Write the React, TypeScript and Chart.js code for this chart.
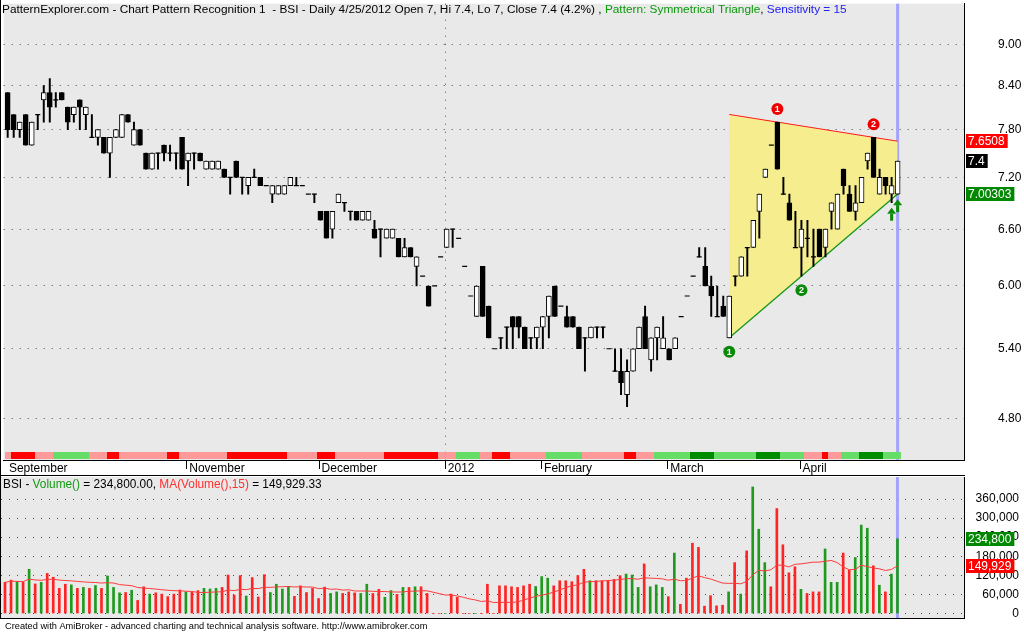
import React, { useEffect, useRef } from "react";
import { Chart, registerables } from "chart.js";

Chart.register(...registerables);

// ---------------- data ----------------
const opens = [
  8.3, 8.0, 7.8, 8.0, 7.6, 8.0, 8.2, 8.3, 8.2, 8.3,
  8.1, 8.0, 8.2, 8.0, 7.7, 7.7, 7.7, 7.5, 7.7, 7.7,
  8.0, 7.6, 7.8, 7.5, 7.3, 7.5, 7.6, 7.5, 7.5, 7.7,
  7.4, 7.5, 7.5, 7.3, 7.3, 7.3, 7.3, 7.2, 7.4, 7.2,
  7.1, 7.2, 7.2, 7.1, 7.0, 7.0, 7.0, 7.1, 7.1, 7.1,
  7.0, 7.0, 6.8, 6.8, 6.6, 6.9, 6.9, 6.8, 6.8, 6.7,
  6.7, 6.6, 6.6, 6.5, 6.5, 6.5, 6.3, 6.4, 6.2, 6.1,
  6.0, 6.0, 6.3, 6.4, 6.6, 6.5, 6.2, 5.9, 5.7, 6.2,
  5.8, 5.4, 5.5, 5.6, 5.7, 5.7, 5.6, 5.5, 5.5, 5.6,
  5.7, 6.0, 5.8, 5.7, 5.7, 5.6, 5.5, 5.5, 5.6, 5.6,
  5.4, 5.2, 5.2, 5.0, 5.2, 5.4, 5.7, 5.3, 5.5, 5.4,
  5.4, 5.4, 5.7, 5.9, 6.1, 6.3, 6.2, 6.0, 5.7, 5.8,
  5.5, 6.1, 6.1, 6.4, 6.4, 6.8, 7.2, 7.6, 7.9, 7.0,
  6.9, 6.4, 6.4, 6.5, 6.3, 6.6, 6.4, 6.8, 6.6, 7.3,
  7.0, 6.8, 6.9, 7.4, 7.7, 7.0, 7.2, 7.0, 7.0,
];
const highs = [
  8.3, 8.0, 7.9, 8.0, 7.9, 8.0, 8.4, 8.5, 8.3, 8.3,
  8.1, 8.1, 8.2, 8.1, 8.0, 7.8, 7.7, 7.7, 7.8, 8.0,
  8.0, 7.9, 7.8, 7.5, 7.5, 7.5, 7.6, 7.6, 7.5, 7.7,
  7.5, 7.5, 7.5, 7.4, 7.4, 7.4, 7.3, 7.2, 7.4, 7.2,
  7.2, 7.3, 7.2, 7.1, 7.1, 7.1, 7.1, 7.2, 7.2, 7.1,
  7.0, 7.0, 6.8, 6.8, 6.8, 7.0, 6.9, 6.8, 6.8, 6.8,
  6.8, 6.7, 6.6, 6.6, 6.6, 6.5, 6.5, 6.4, 6.3, 6.1,
  6.0, 6.0, 6.3, 6.6, 6.6, 6.5, 6.2, 5.9, 6.0, 6.2,
  5.8, 5.4, 5.5, 5.6, 5.7, 5.7, 5.6, 5.5, 5.6, 5.7,
  5.9, 6.0, 5.8, 5.8, 5.7, 5.6, 5.5, 5.6, 5.6, 5.6,
  5.4, 5.4, 5.4, 5.3, 5.4, 5.6, 5.8, 5.5, 5.6, 5.7,
  5.4, 5.5, 5.7, 5.9, 6.1, 6.4, 6.4, 6.1, 6.0, 5.9,
  5.9, 6.1, 6.3, 6.4, 6.7, 7.0, 7.3, 7.6, 7.9, 7.2,
  7.0, 6.8, 6.7, 6.7, 6.6, 6.6, 6.6, 6.9, 7.0, 7.3,
  7.1, 7.1, 7.2, 7.5, 7.7, 7.3, 7.2, 7.2, 7.4,
];
const lows = [
  7.7, 7.7, 7.7, 7.6, 7.6, 7.8, 7.9, 7.9, 8.1, 8.2,
  7.8, 7.9, 7.8, 7.8, 7.7, 7.6, 7.5, 7.2, 7.7, 7.7,
  7.9, 7.6, 7.6, 7.3, 7.3, 7.3, 7.4, 7.4, 7.3, 7.3,
  7.1, 7.3, 7.4, 7.3, 7.3, 7.3, 7.2, 7.0, 7.2, 7.0,
  7.0, 7.2, 7.1, 7.1, 6.9, 7.0, 7.0, 7.1, 7.1, 7.1,
  7.0, 6.9, 6.7, 6.5, 6.5, 6.9, 6.8, 6.7, 6.7, 6.7,
  6.7, 6.5, 6.3, 6.5, 6.5, 6.3, 6.3, 6.3, 6.0, 6.1,
  5.8, 6.0, 6.3, 6.4, 6.4, 6.5, 6.2, 5.9, 5.7, 5.7,
  5.5, 5.4, 5.4, 5.4, 5.4, 5.5, 5.4, 5.4, 5.4, 5.4,
  5.5, 5.7, 5.8, 5.6, 5.6, 5.4, 5.2, 5.5, 5.5, 5.5,
  5.4, 5.2, 5.0, 4.9, 5.2, 5.4, 5.4, 5.2, 5.3, 5.4,
  5.3, 5.4, 5.7, 5.9, 6.1, 6.3, 6.0, 5.7, 5.7, 5.7,
  5.5, 6.0, 6.1, 6.1, 6.4, 6.5, 7.2, 7.6, 7.3, 7.0,
  6.7, 6.4, 6.1, 6.3, 6.2, 6.3, 6.3, 6.6, 6.6, 7.0,
  6.8, 6.7, 6.9, 7.3, 7.2, 7.0, 7.0, 6.9, 7.0,
];
const closes = [
  7.8, 7.8, 7.9, 7.6, 7.9, 8.0, 8.3, 8.1, 8.2, 8.2,
  7.9, 8.1, 8.1, 8.1, 7.7, 7.8, 7.5, 7.7, 7.8, 8.0,
  7.9, 7.8, 7.6, 7.3, 7.5, 7.5, 7.5, 7.5, 7.5, 7.3,
  7.5, 7.5, 7.4, 7.4, 7.4, 7.4, 7.2, 7.2, 7.2, 7.2,
  7.2, 7.2, 7.1, 7.1, 7.1, 7.1, 7.1, 7.2, 7.1, 7.1,
  7.0, 7.0, 6.7, 6.5, 6.8, 7.0, 6.9, 6.8, 6.7, 6.8,
  6.8, 6.5, 6.6, 6.6, 6.6, 6.3, 6.4, 6.3, 6.3, 6.1,
  5.8, 6.0, 6.3, 6.6, 6.6, 6.5, 6.2, 5.9, 6.0, 5.7,
  5.5, 5.4, 5.5, 5.6, 5.6, 5.6, 5.4, 5.5, 5.6, 5.7,
  5.9, 5.7, 5.8, 5.6, 5.6, 5.4, 5.5, 5.6, 5.6, 5.6,
  5.4, 5.2, 5.1, 5.2, 5.4, 5.6, 5.4, 5.5, 5.6, 5.5,
  5.3, 5.5, 5.7, 5.9, 6.1, 6.3, 6.0, 5.9, 5.7, 5.7,
  5.9, 6.1, 6.3, 6.4, 6.7, 7.0, 7.3, 7.6, 7.3, 7.0,
  6.7, 6.4, 6.6, 6.5, 6.3, 6.3, 6.6, 6.9, 7.0, 7.1,
  6.8, 6.9, 7.2, 7.5, 7.2, 7.2, 7.1, 7.1, 7.4,
];
const volumes = [
  98000, 105000, 100000, 98000, 139000, 93000, 98000, 126000, 114000, 79000,
  92000, 90000, 79000, 82000, 79000, 88000, 79000, 118000, 82000, 65000,
  66000, 73000, 41000, 84000, 61000, 65000, 61000, 53000, 61000, 74000,
  68000, 68000, 72000, 79000, 77000, 79000, 82000, 121000, 58000, 119000,
  55000, 113000, 52000, 122000, 66000, 92000, 77000, 85000, 54000, 87000,
  66000, 79000, 47000, 83000, 63000, 68000, 63000, 68000, 65000, 63000,
  92000, 63000, 76000, 51000, 72000, 60000, 82000, 82000, 84000, 84000,
  63000, 0, 0, 0, 61000, 51000, 0, 0, 0, 0,
  92000, 0, 87000, 87000, 84000, 82000, 87000, 92000, 85000, 116000,
  111000, 87000, 103000, 103000, 100000, 119000, 139000, 103000, 103000, 103000,
  103000, 107000, 119000, 124000, 121000, 82000, 156000, 84000, 90000, 82000,
  53000, 190000, 29000, 111000, 221000, 208000, 23000, 56000, 24000, 26000,
  68000, 160000, 61000, 197000, 398000, 265000, 160000, 84000, 330000, 216000,
  128000, 147000, 76000, 63000, 68000, 68000, 203000, 98000, 98000, 190000,
  136000, 176000, 278000, 268140, 150000, 89000, 68000, 124000, 234800,
];

const priceTicks = [4.8, 5.4, 6.0, 6.6, 7.2, 7.8, 8.4, 9.0];
const volumeTicks = [0, 60000, 120000, 180000, 240000, 300000, 360000];
const monthStartBars = [0, 30, 52, 73, 89, 110, 132];
const monthLabels = ["September", "November", "December", "2012", "February", "March", "April"];
const yearStartBar = 73;

// trend strip at bottom of price pane (run starts + kind)
const trendStarts = [0, 1, 5, 8, 14, 17, 19, 27, 29, 37, 47, 52, 55, 63, 72, 75, 79, 81, 84, 90, 96, 103, 105, 108, 114, 118, 125, 129, 133, 136, 137, 139, 142, 146];
const trendKinds = ["lr", "r", "lr", "lg", "lr", "r", "lr", "r", "lr", "r", "lr", "r", "lr", "r", "lr", "lg", "lr", "r", "lr", "lg", "lr", "r", "lr", "lg", "g", "lg", "g", "lg", "lr", "r", "lr", "lg", "g", "lg"];

const patternBars = [120, 148];
const resistanceValues = [8.0019, 7.6508];
const supportValues = [5.5, 7.00303];
const peakBars = [128, 144];
const troughBars = [120, 132];
const signalBars = [147, 148];
const MA_PERIOD = 15;

const headerParts = [
  { t: "PatternExplorer.com - Chart Pattern Recognition 1  - BSI - Daily 4/25/2012 Open 7, Hi 7.4, Lo 7, Close 7.4 (4.2%) , ", c: "#000000" },
  { t: "Pattern: Symmetrical Triangle", c: "#0a9a0a" },
  { t: ", ", c: "#000000" },
  { t: "Sensitivity = 15", c: "#2020f0" },
];
const volumeTitleParts = [
  { t: "BSI - ", c: "#000000" },
  { t: "Volume()", c: "#129a12" },
  { t: " = 234,800.00, ", c: "#000000" },
  { t: "MA(Volume(),15)", c: "#ff3030" },
  { t: " = 149,929.33", c: "#000000" },
];
const footerText = "Created with AmiBroker - advanced charting and technical analysis software. http://www.amibroker.com";

// ---------------- styling ----------------
const FONT = "'Liberation Sans', Arial, Helvetica, sans-serif";
const PANE_BG = "#e9e9e9";
const GRID = "#4a4a4a";
const UP_GREEN = "#1f9a1f";
const DOWN_RED = "#ff2424";
const TREND_COLORS: Record<string, string> = { r: "#ff0000", lr: "#ff9a9a", lg: "#66dd66", g: "#008c00" };
const X_MIN = -0.6633;
const X_MAX = 159.037;

function measureParts(ctx: CanvasRenderingContext2D, parts: { t: string }[], size: number) {
  ctx.font = `${size}px ${FONT}`;
  return parts.reduce((s, p) => s + ctx.measureText(p.t).width, 0);
}
function drawParts(ctx: CanvasRenderingContext2D, parts: { t: string; c: string }[], x: number, y: number, target: number) {
  let size = 12;
  const w = measureParts(ctx, parts, size);
  size = Math.max(10.5, Math.min(13, (size * target) / w));
  ctx.font = `${size}px ${FONT}`;
  ctx.textBaseline = "alphabetic";
  ctx.textAlign = "left";
  let cx = x;
  for (const p of parts) {
    ctx.fillStyle = p.c;
    ctx.fillText(p.t, cx, y);
    cx += ctx.measureText(p.t).width;
  }
}
function drawTag(ctx: CanvasRenderingContext2D, x: number, y: number, text: string, bg: string) {
  ctx.font = `12px ${FONT}`;
  const w = ctx.measureText(text).width + 5;
  const yy = Math.round(y);
  ctx.fillStyle = bg;
  ctx.fillRect(x, yy - 7, w, 14);
  ctx.fillStyle = "#ffffff";
  ctx.textBaseline = "middle";
  ctx.textAlign = "left";
  ctx.fillText(text, x + 2, yy + 0.5);
}
function drawBadge(ctx: CanvasRenderingContext2D, x: number, y: number, color: string, label: string) {
  ctx.beginPath();
  ctx.arc(x, y, 6, 0, Math.PI * 2);
  ctx.fillStyle = color;
  ctx.fill();
  ctx.fillStyle = "#ffffff";
  ctx.font = `bold 9px ${FONT}`;
  ctx.textAlign = "center";
  ctx.textBaseline = "middle";
  ctx.fillText(label, x, y + 0.5);
}
function drawUpArrow(ctx: CanvasRenderingContext2D, x: number, top: number, color: string) {
  ctx.fillStyle = color;
  ctx.beginPath();
  ctx.moveTo(x, top);
  ctx.lineTo(x - 4.5, top + 6);
  ctx.lineTo(x + 4.5, top + 6);
  ctx.closePath();
  ctx.fill();
  ctx.fillRect(x - 1.5, top + 6, 3, 7);
}

export default function App() {
  const priceRef = useRef<HTMLCanvasElement>(null);
  const volRef = useRef<HTMLCanvasElement>(null);

  useEffect(() => {
    document.body.style.margin = "0";
    const n = closes.length;
    const lastBar = n - 1;

    const wickData: any[] = [];
    const bodyData: any[] = [];
    const bodyColors: string[] = [];
    const dojiData: any[] = [];
    for (let i = 0; i < n; i++) {
      const o = opens[i], c = closes[i];
      if (highs[i] > lows[i]) wickData.push({ x: i, y: [lows[i], highs[i]] });
      if (o !== c) {
        bodyData.push({ x: i, y: [Math.min(o, c), Math.max(o, c)] });
        bodyColors.push(c > o ? "#ffffff" : "#000000");
      } else {
        dojiData.push({ x: i, y: o });
      }
    }
    const volData = volumes.map((v, i) => ({ x: i, y: v }));
    const volColors = volumes.map((_, i) => (closes[i] > opens[i] ? UP_GREEN : DOWN_RED));
    const maData = volumes.map((_, i) => {
      const s = Math.max(0, i - MA_PERIOD + 1);
      let sum = 0;
      for (let k = s; k <= i; k++) sum += volumes[k];
      return { x: i, y: sum / (i - s + 1) };
    });

    const bgPlugin = {
      id: "paneBg",
      beforeDraw(chart: any) {
        const { ctx, chartArea: a } = chart;
        ctx.save();
        ctx.fillStyle = PANE_BG;
        ctx.fillRect(a.left, a.top, a.right - a.left, a.bottom - a.top);
        ctx.restore();
      },
      beforeDatasetsDraw(chart: any) {
        const { ctx, chartArea: a, scales } = chart;
        const x = scales.x.getPixelForValue(lastBar);
        ctx.save();
        ctx.fillStyle = "rgba(150,150,255,0.85)";
        ctx.fillRect(x - 1.5, a.top, 3, a.bottom - a.top);
        ctx.restore();
      },
    };

    const pricePlugin = {
      id: "priceOverlay",
      beforeDatasetsDraw(chart: any) {
        const { ctx, chartArea: a, scales } = chart;
        const xs = scales.x;
        ctx.save();
        const yx = Math.round(xs.getPixelForValue(yearStartBar - 0.3)) + 0.5;
        ctx.strokeStyle = GRID;
        ctx.lineWidth = 1;
        ctx.setLineDash([1, 7]);
        ctx.beginPath();
        ctx.moveTo(yx, a.top);
        ctx.lineTo(yx, a.bottom);
        ctx.stroke();
        ctx.restore();
      },
      afterDatasetsDraw(chart: any) {
        const { ctx, chartArea: a, scales } = chart;
        const xs = scales.x, ys = scales.y;
        ctx.save();
        for (let k = 0; k < trendStarts.length; k++) {
          const s = trendStarts[k];
          const e = k + 1 < trendStarts.length ? trendStarts[k + 1] - 1 : lastBar;
          const x0 = Math.round(xs.getPixelForValue(s - 0.5));
          const x1 = Math.round(xs.getPixelForValue(e + 0.5));
          ctx.fillStyle = TREND_COLORS[trendKinds[k]];
          ctx.fillRect(x0, a.bottom - 8, x1 - x0, 7);
        }
        peakBars.forEach((b, idx) => {
          drawBadge(ctx, xs.getPixelForValue(b), ys.getPixelForValue(highs[b]) - 13, "#ee0000", String(idx + 1));
        });
        troughBars.forEach((b, idx) => {
          drawBadge(ctx, xs.getPixelForValue(b), ys.getPixelForValue(lows[b]) + 14, "#0a8a0a", String(idx + 1));
        });
        signalBars.forEach((b) => {
          drawUpArrow(ctx, xs.getPixelForValue(b), ys.getPixelForValue(lows[b]) + 5, "#0a8a0a");
        });
        ctx.restore();
      },
      afterDraw(chart: any) {
        const { ctx, chartArea: a, scales } = chart;
        const ys = scales.y, xs = scales.x;
        ctx.save();
        ctx.strokeStyle = "#000";
        ctx.lineWidth = 1;
        monthStartBars.forEach((b, i) => {
          if (i === 0) return;
          const x = Math.round(xs.getPixelForValue(b - 0.3)) + 0.5;
          ctx.beginPath();
          ctx.moveTo(x, a.bottom + 1);
          ctx.lineTo(x, a.bottom + 9);
          ctx.stroke();
        });
        ctx.fillStyle = "#000";
        ctx.fillRect(0, chart.height - 1, a.right + 1, 1);
        drawParts(ctx, headerParts, 2, 13, 846);
        drawTag(ctx, a.right + 2, ys.getPixelForValue(resistanceValues[1]), resistanceValues[1].toFixed(4), "#ff0000");
        drawTag(ctx, a.right + 2, ys.getPixelForValue(closes[lastBar]), String(closes[lastBar]), "#000000");
        drawTag(ctx, a.right + 2, ys.getPixelForValue(supportValues[1]), supportValues[1].toFixed(5), "#008800");
        ctx.fillStyle = "#000";
        ctx.fillRect(0, 0, 1, chart.height);
        ctx.restore();
      },
    };

    const volPlugin = {
      id: "volOverlay",
      afterDraw(chart: any) {
        const { ctx, chartArea: a, scales } = chart;
        const ys = scales.y;
        ctx.save();
        ctx.fillStyle = "#000";
        ctx.fillRect(0, a.bottom, a.right + 1, 1);
        ctx.fillRect(0, 0, 1, a.bottom);
        drawParts(ctx, volumeTitleParts, 3, 12, 319);
        const lastVol = volumes[lastBar];
        const lastMa = maData[lastBar].y;
        drawTag(ctx, a.right + 2, ys.getPixelForValue(lastVol), Math.round(lastVol).toLocaleString("en-US"), "#008800");
        drawTag(ctx, a.right + 2, ys.getPixelForValue(lastMa), Math.floor(lastMa).toLocaleString("en-US"), "#ff0000");
        ctx.fillStyle = "#000";
        const fs = 10;
        ctx.font = `${fs}px ${FONT}`;
        const w = ctx.measureText(footerText).width;
        const size = Math.max(8.5, Math.min(11, (fs * 423) / w));
        ctx.font = `${size}px ${FONT}`;
        ctx.textBaseline = "alphabetic";
        ctx.textAlign = "left";
        ctx.fillText(footerText, 5, a.bottom + 11);
        ctx.restore();
      },
    };

    const baseX = {
      type: "linear",
      min: X_MIN,
      max: X_MAX,
      bounds: "data",
      offset: false,
    };

    const priceChart = new Chart(priceRef.current as HTMLCanvasElement, {
      type: "bar",
      data: {
        datasets: [
          {
            type: "line",
            data: [
              { x: patternBars[0], y: resistanceValues[0] },
              { x: patternBars[1], y: resistanceValues[1] },
            ],
            borderColor: "#ff1a1a",
            borderWidth: 1,
            pointRadius: 0,
            fill: false,
            order: 8,
          },
          {
            type: "line",
            data: [
              { x: patternBars[0], y: supportValues[0] },
              { x: patternBars[1], y: supportValues[1] },
            ],
            borderColor: "#14961c",
            borderWidth: 1.3,
            pointRadius: 0,
            fill: "-1",
            backgroundColor: "#f6ee8e",
            order: 9,
          },
          {
            type: "bar",
            data: wickData,
            backgroundColor: "#000000",
            barThickness: 1.3,
            grouped: false,
            order: 3,
          },
          {
            type: "bar",
            data: bodyData,
            backgroundColor: bodyColors,
            borderColor: "#000000",
            borderWidth: 1,
            borderSkipped: false,
            barThickness: 5,
            grouped: false,
            order: 2,
          },
          {
            type: "line",
            data: dojiData,
            showLine: false,
            pointStyle: "line",
            pointRadius: 2.5,
            pointHoverRadius: 2.5,
            pointBorderColor: "#000000",
            pointBorderWidth: 1.2,
            order: 1,
          },
        ],
      } as any,
      options: {
        responsive: false,
        animation: false,
        devicePixelRatio: 1,
        events: [],
        layout: { padding: { left: 1, right: 0, top: 0, bottom: 0 } },
        plugins: { legend: { display: false }, tooltip: { enabled: false } },
        scales: {
          x: {
            ...baseX,
            afterBuildTicks: (s: any) => {
              s.ticks = monthStartBars.map((b) => ({ value: b - 0.3 }));
            },
            afterFit: (s: any) => {
              s.height = 16;
              s.paddingLeft = 0;
              s.paddingRight = 0;
            },
            ticks: {
              autoSkip: false,
              maxRotation: 0,
              minRotation: 0,
              align: "start",
              labelOffset: 3,
              padding: 1,
              color: "#000",
              font: { family: FONT, size: 12 },
              callback: (_v: any, i: number) => monthLabels[i],
            },
            grid: { display: false, drawTicks: false },
            border: { display: true, color: "#000", width: 1 },
          },
          y: {
            type: "logarithmic",
            position: "right",
            min: 4.48,
            max: 9.637,
            bounds: "data",
            afterBuildTicks: (s: any) => {
              s.ticks = priceTicks.map((v) => ({ value: v }));
            },
            afterFit: (s: any) => {
              s.width = 60;
              s.paddingTop = 0;
              s.paddingBottom = 0;
            },
            ticks: {
              autoSkip: false,
              crossAlign: "near",
              padding: 34,
              color: "#000",
              font: { family: FONT, size: 12 },
              callback: (v: any) => Number(v).toFixed(2),
            },
            grid: { color: GRID, drawTicks: false, lineWidth: 1 },
            border: { display: true, color: "#000", width: 1, dash: [1, 7] },
          },
        },
      } as any,
      plugins: [bgPlugin, pricePlugin],
    });

    const volChart = new Chart(volRef.current as HTMLCanvasElement, {
      type: "bar",
      data: {
        datasets: [
          {
            type: "line",
            data: maData,
            borderColor: "#ff3b3b",
            borderWidth: 1,
            pointRadius: 0,
            fill: false,
            order: 0,
          },
          {
            type: "bar",
            data: volData,
            backgroundColor: volColors,
            barThickness: 2,
            grouped: false,
            order: 1,
          },
        ],
      } as any,
      options: {
        responsive: false,
        animation: false,
        devicePixelRatio: 1,
        events: [],
        layout: { padding: { left: 1, right: 5, top: 1, bottom: 14 } },
        plugins: { legend: { display: false }, tooltip: { enabled: false } },
        scales: {
          x: { ...baseX, display: false },
          y: {
            type: "linear",
            position: "right",
            min: -14150,
            max: 429200,
            bounds: "data",
            afterBuildTicks: (s: any) => {
              s.ticks = volumeTicks.map((v) => ({ value: v }));
            },
            afterFit: (s: any) => {
              s.width = 55;
              s.paddingTop = 0;
              s.paddingBottom = 0;
            },
            ticks: {
              autoSkip: false,
              crossAlign: "far",
              padding: 2,
              color: "#000",
              font: { family: FONT, size: 12 },
              callback: (v: any) => Number(v).toLocaleString("en-US"),
            },
            grid: { color: GRID, drawTicks: false, lineWidth: 1 },
            border: { display: true, color: "#000", width: 1, dash: [1, 7] },
          },
        },
      } as any,
      plugins: [bgPlugin, volPlugin],
    });

    return () => {
      priceChart.destroy();
      volChart.destroy();
    };
  }, []);

  return (
    <div style={{ position: "relative", width: 1024, height: 632, background: "#ffffff", overflow: "hidden" }}>
      <canvas ref={priceRef} width={1024} height={476} style={{ position: "absolute", left: 0, top: 0, width: 1024, height: 476 }} />
      <canvas ref={volRef} width={1024} height={156} style={{ position: "absolute", left: 0, top: 476, width: 1024, height: 156 }} />
    </div>
  );
}
